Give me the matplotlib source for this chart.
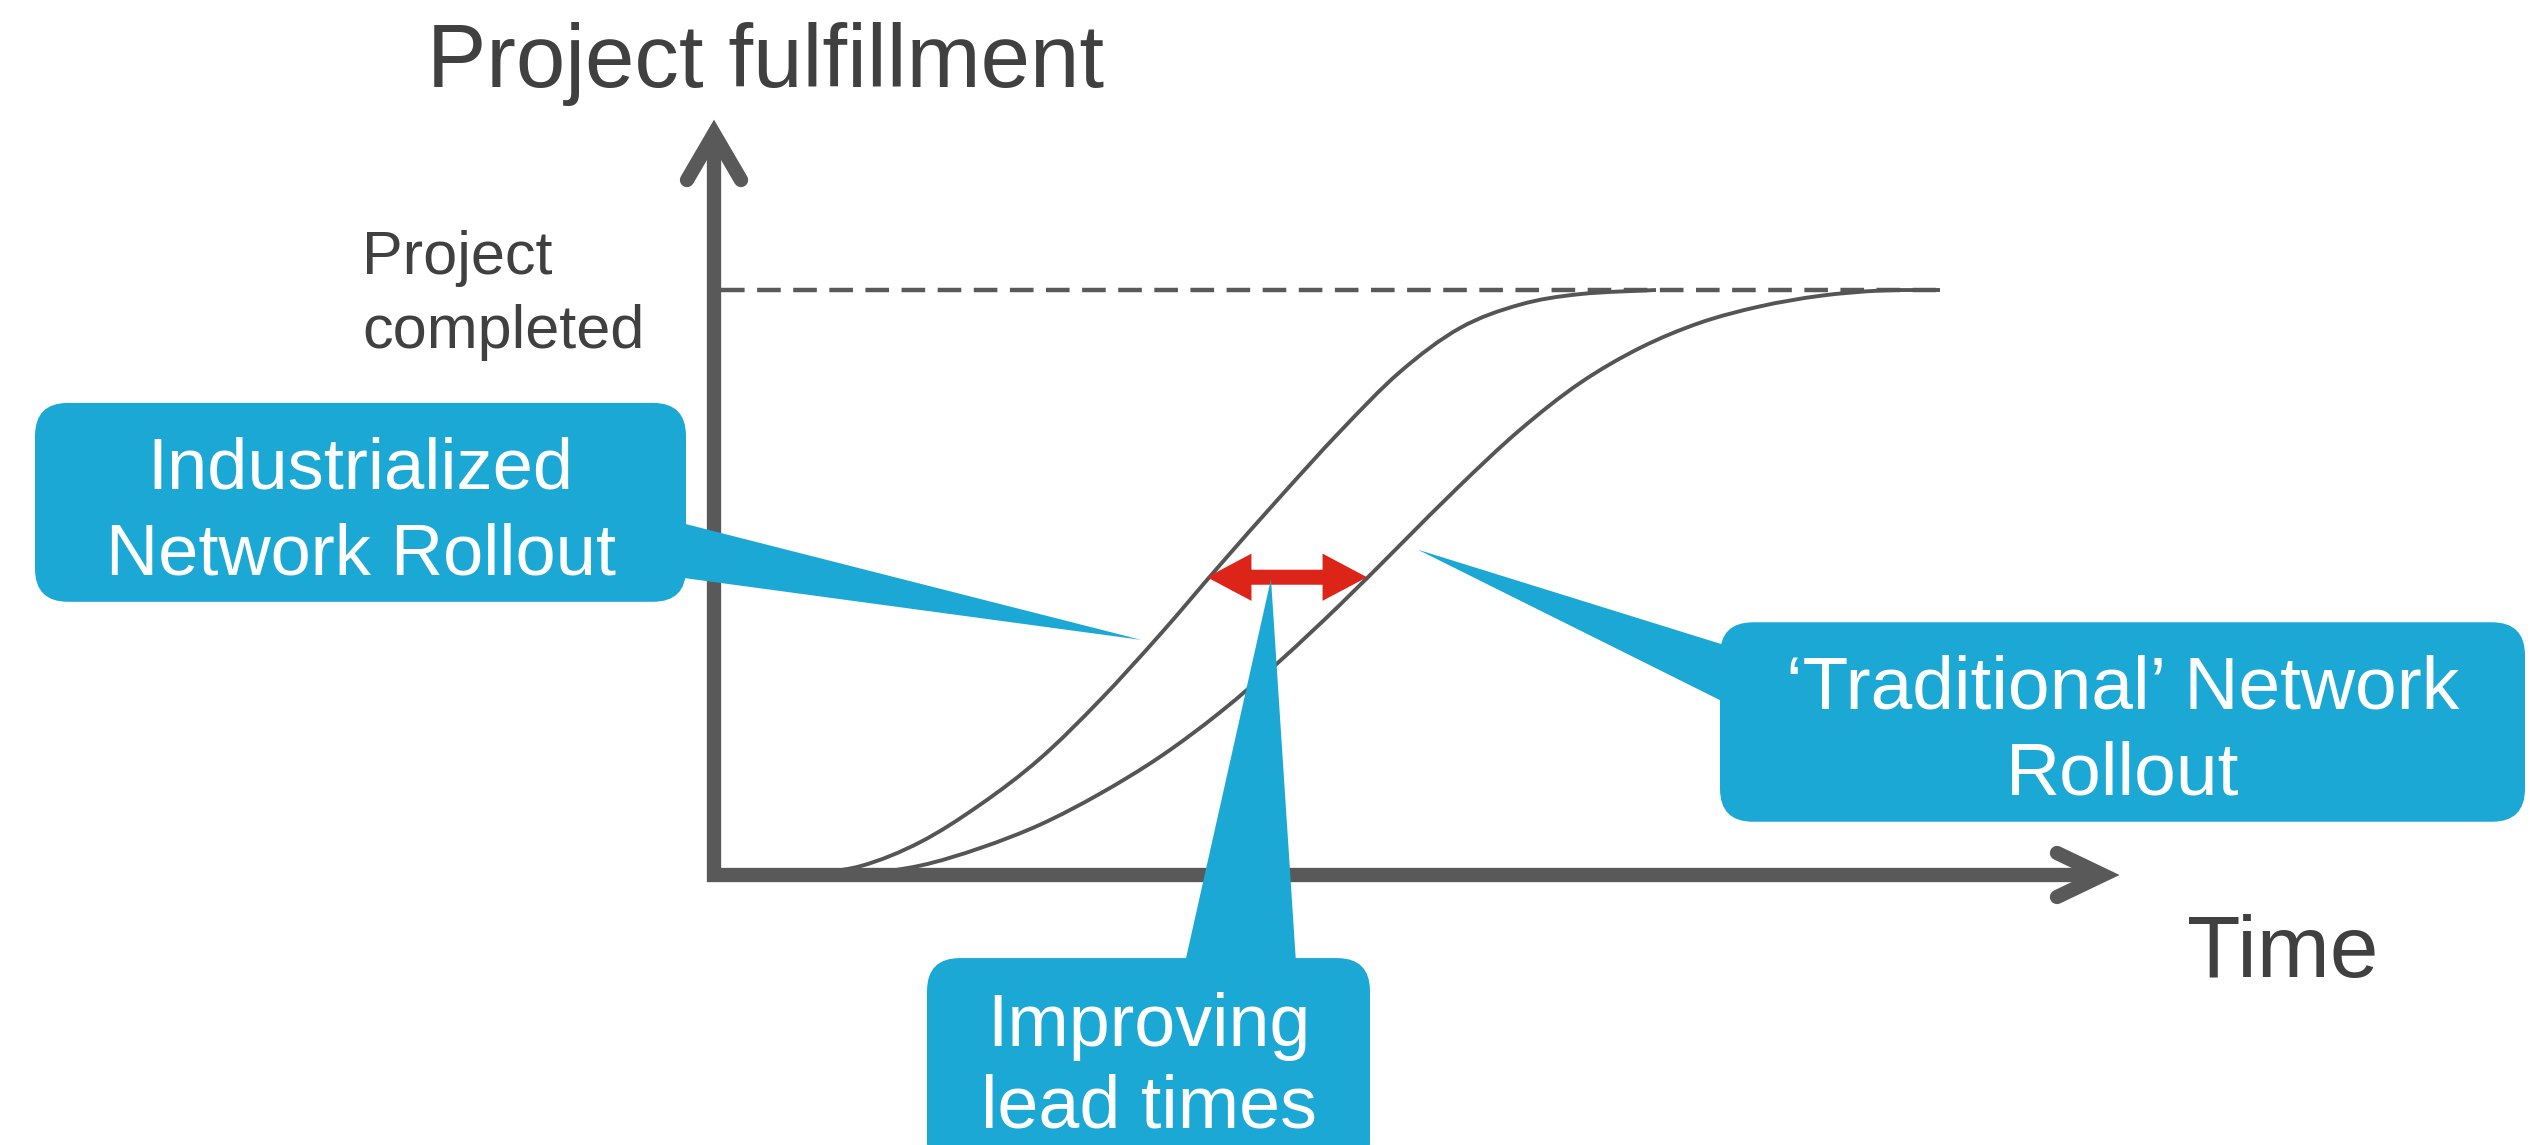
import matplotlib
matplotlib.use("Agg")
import matplotlib.pyplot as plt
from matplotlib.path import Path
from matplotlib.patches import PathPatch, FancyBboxPatch, Polygon, FancyArrowPatch

plt.rcParams['font.family'] = ['Liberation Sans', 'DejaVu Sans']
plt.rcParams['lines.scale_dashes'] = False

# S-curves: time (1 unit = 100 px) vs. project fulfillment in %
industrial_t = [0.86, 1.46, 2.06, 2.66, 3.26, 3.86, 4.46, 5.06, 5.66, 6.26,
                6.86, 7.46, 8.06, 8.66, 9.42]
industrial_f = [0, 1.5, 5.6, 12.0, 19.9, 29.9, 41.1, 53.0, 64.6, 75.8,
                86.0, 93.5, 97.5, 99.3, 100]

traditional_t = [0.86, 1.46, 2.06, 2.66, 3.26, 3.86, 4.46, 5.06, 5.66, 6.26,
                 6.86, 7.46, 8.06, 8.66, 9.26, 9.86, 10.46, 11.06, 11.66, 12.26]
traditional_f = [0, 0.2, 1.6, 4.6, 8.6, 13.9, 20.2, 27.8, 36.6, 46.2,
                 56.4, 66.6, 76.1, 84.1, 90.1, 94.4, 97.2, 99.0, 99.9, 100]

completed_level = 100
# gap between the curves at half completion
lead_level = 50.9
lead_from, lead_to = 4.93, 6.53

y_label = "Project fulfillment"
x_label = "Time"
completed_lines = ["Project", "completed"]
industrial_lines = ["Industrialized", "Network Rollout"]
traditional_lines = ["\u2018Traditional\u2019 Network", "Rollout"]
lead_lines = ["Improving", "lead times"]

BLUE = "#1BA8D4"
RED = "#DC2418"
AXIS = "#595959"
CURVE = "#555555"
TEXT = "#404040"

PX_T = 100.0   # px per time unit
PX_F = 5.85    # px per percent
ASPECT = PX_T / PX_F

fig = plt.figure(figsize=(25.3, 11.45), dpi=100)
ax = fig.add_axes([0, 0, 1, 1])
ax.set_xlim(-7.14, 18.16)
ax.set_ylim(-46.154, 149.573)
ax.axis('off')


def smooth_path(xs, ys):
    # Catmull-Rom through the points, handed to matplotlib as cubic Beziers
    pts = list(zip(xs, ys))
    ext = [pts[0]] + pts + [pts[-1]]
    verts = [pts[0]]
    codes = [Path.MOVETO]
    for i in range(1, len(ext) - 2):
        p0, p1, p2, p3 = ext[i - 1], ext[i], ext[i + 1], ext[i + 2]
        c1 = (p1[0] + (p2[0] - p0[0]) / 6, p1[1] + (p2[1] - p0[1]) / 6)
        c2 = (p2[0] - (p3[0] - p1[0]) / 6, p2[1] - (p3[1] - p1[1]) / 6)
        verts += [c1, c2, p2]
        codes += [Path.CURVE4] * 3
    return Path(verts, codes)


# completion level
ax.plot([0.07, traditional_t[-1]], [completed_level, completed_level],
        color=AXIS, lw=3.2, dashes=(17, 9), zorder=1)

# the two rollout curves
for xs, ys in [(industrial_t, industrial_f), (traditional_t, traditional_f)]:
    ax.add_patch(PathPatch(smooth_path(xs, ys), fc='none', ec=CURVE,
                           lw=2.8, zorder=2))

# axes with open arrow heads
ax.plot([0, 0], [-1.2, 126.7], color=AXIS, lw=10.3, solid_capstyle='butt', zorder=3)
ax.plot([-0.07, 13.89], [0, 0], color=AXIS, lw=10.3, solid_capstyle='butt', zorder=3)
ax.plot([-0.27, 0, 0.27], [118.8, 126.7, 118.8], color=AXIS, lw=10.3,
        solid_capstyle='round', solid_joinstyle='miter', zorder=3)
ax.plot([13.43, 13.89, 13.43], [3.76, 0, -3.76], color=AXIS, lw=10.3,
        solid_capstyle='round', solid_joinstyle='miter', zorder=3)

ax.text(-2.87, 134.7, y_label, fontsize=64, color=TEXT, ha='left', va='baseline')
ax.text(14.73, -17.44, x_label, fontsize=63, color=TEXT, ha='left', va='baseline')
for line, fy in zip(completed_lines, [102.7, 90.1]):
    ax.text(-3.52, fy, line, fontsize=44, color=TEXT, ha='left', va='baseline')


def callout(x0, x1, y0, y1, base, tip, lines, baselines, size, z):
    ax.add_patch(Polygon([base[0], base[1], tip], closed=True, fc=BLUE,
                         ec='none', zorder=z))
    ax.add_patch(FancyBboxPatch((x0, y0), x1 - x0, y1 - y0,
                                boxstyle='round,pad=0,rounding_size=0.33',
                                mutation_aspect=ASPECT, fc=BLUE, ec='none',
                                zorder=z))
    cx = (x0 + x1) / 2
    for line, fy in zip(lines, baselines):
        ax.text(cx, fy, line, fontsize=size, color='white', ha='center',
                va='baseline', zorder=z + 1)


# lead-time arrow, built from two heads meeting in the middle
mid = (lead_from + lead_to) / 2
for end in (lead_from, lead_to):
    ax.add_patch(FancyArrowPatch(
        (mid, lead_level), (end, lead_level),
        arrowstyle='simple,head_length=32,head_width=34,tail_width=10.8',
        mutation_scale=1, shrinkA=0, shrinkB=0, fc=RED, ec='none', lw=0,
        zorder=5))

callout(-6.79, -0.28, 46.7, 80.7,
        [(-0.4, 60.5), (-0.4, 51.0)], (4.27, 40.2),
        industrial_lines, [66.0, 51.3], 52, 4)
callout(10.06, 18.11, 9.1, 43.2,
        [(10.2, 38.8), (10.2, 28.7)], (7.04, 55.6),
        traditional_lines, [28.4, 13.8], 54, 4)
callout(2.13, 6.56, -51.3, -14.2,
        [(4.71, -15.0), (5.82, -15.0)], (5.57, 50.6),
        lead_lines, [-29.2, -43.2], 53, 6)

fig.savefig("out.png", dpi=100)
